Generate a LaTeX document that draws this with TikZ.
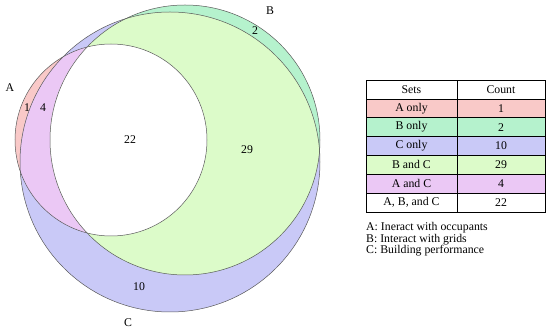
\documentclass[tikz,border=0pt]{standalone}
\usepackage{fontspec}
\setmainfont{Liberation Serif}
\definecolor{aonly}{HTML}{F9C9C8}
\definecolor{bonly}{HTML}{B5F2CD}
\definecolor{conly}{HTML}{C9C9F7}
\definecolor{bandc}{HTML}{DCFBC9}
\definecolor{aandc}{HTML}{EBC8F5}
\begin{document}
\begin{tikzpicture}
[x=1pt,y=-1pt,font=\fontsize{11.8}{14}\selectfont,
 setline/.style={draw=black!65,line width=0.5pt},
 cellS/.style={draw=black,line width=0.6pt,minimum width=91pt,minimum height=18.86pt,inner sep=0pt},
 cellN/.style={draw=black,line width=0.6pt,minimum width=88pt,minimum height=18.86pt,inner sep=0pt},
 legline/.style={anchor=west,inner sep=0pt}]
\useasboundingbox (0,0) rectangle (550,336);
\coordinate (ca) at (111,140);
\coordinate (cb) at (185,140);
\coordinate (cc) at (170,162);
% fills
\fill[aonly] (ca) circle[radius=96pt];
\fill[conly] (cc) circle[radius=150pt];
\fill[bonly] (cb) circle[radius=135pt];
\begin{scope}
\clip (cc) circle[radius=150pt];
\fill[aandc] (ca) circle[radius=96pt];
\fill[bandc] (cb) circle[radius=135pt];
\clip (ca) circle[radius=96pt];
\fill[white] (cb) circle[radius=135pt];
\end{scope}
% outlines
\draw[setline] (ca) circle[radius=96pt];
\draw[setline] (cb) circle[radius=135pt];
\draw[setline] (cc) circle[radius=150pt];
% set names
\node (la) at (10,88) {A};
\node (lb) at (270,11) {B};
\node (lc) at (128,323) {C};
% counts
\node (n1) at (27,108) {1};
\node (n4) at (43,108) {4};
\node (n22) at (130,140) {22};
\node (n29) at (247,150) {29};
\node (n2) at (255,31) {2};
\node (n10) at (139,287) {10};
% table
\node[cellS] (s0) at (411.5,89.4) {Sets};
\node[cellN] (c0) at (501,89.4) {Count};
\node[cellS,fill=aonly] (s1) at (411.5,108.3) {A only};
\node[cellN,fill=aonly] (c1) at (501,108.3) {1};
\node[cellS,fill=bonly] (s2) at (411.5,127.1) {B only};
\node[cellN,fill=bonly] (c2) at (501,127.1) {2};
\node[cellS,fill=conly] (s3) at (411.5,146.0) {C only};
\node[cellN,fill=conly] (c3) at (501,146.0) {10};
\node[cellS,fill=bandc] (s4) at (411.5,164.9) {B and C};
\node[cellN,fill=bandc] (c4) at (501,164.9) {29};
\node[cellS,fill=aandc] (s5) at (411.5,183.7) {A and C};
\node[cellN,fill=aandc] (c5) at (501,183.7) {4};
\node[cellS] (s6) at (411.5,202.6) {A, B, and C};
\node[cellN] (c6) at (501,202.6) {22};
% legend
\node[legline] (ka) at (366,228) {A: Ineract with occupants};
\node[legline] (kb) at (366,239.5) {B: Interact with grids};
\node[legline] (kc) at (366,251) {C: Building performance};
\end{tikzpicture}
\end{document}
